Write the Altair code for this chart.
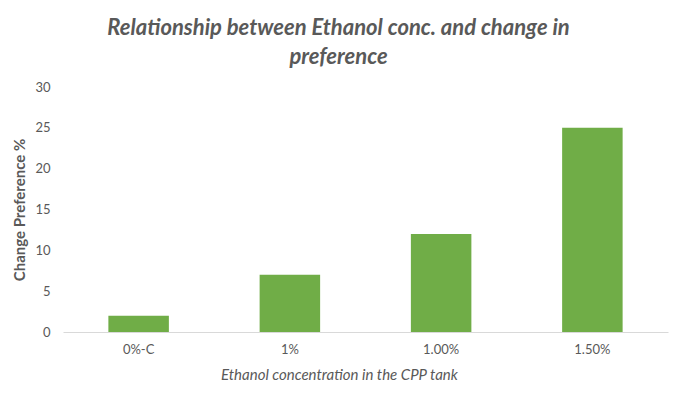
import altair as alt
import pandas as pd

categories = ["0%-C", "1%", "1.00%", "1.50%"]
values = [2, 7, 12, 25]

df = pd.DataFrame({"cat": categories, "val": values})

FONT = "Lato"
GRAY = "#595959"

chart = alt.Chart(df).mark_bar(color="#70AD47").encode(
    x=alt.X("cat:N", sort=categories,
            scale=alt.Scale(paddingInner=0.6, paddingOuter=0.3),
            axis=alt.Axis(title="Ethanol concentration in the CPP tank", labelAngle=0,
                          labelFont=FONT, labelFontSize=13, labelColor=GRAY,
                          labelPadding=11, ticks=False, domainColor="#D9D9D9",
                          titleFont=FONT, titleFontSize=15, titleFontStyle="italic",
                          titleFontWeight="normal", titleColor=GRAY, titlePadding=11,
                          titleX=276)),
    y=alt.Y("val:Q", scale=alt.Scale(domain=[0, 30]),
            axis=alt.Axis(title="Change Preference %", values=[0, 5, 10, 15, 20, 25, 30],
                          labelFont=FONT, labelFontSize=13, labelColor=GRAY,
                          labelPadding=13, ticks=False, domain=False, grid=False,
                          titleFont=FONT, titleFontSize=15, titleFontWeight="bold",
                          titleColor=GRAY, titleX=-36)),
).properties(
    width=605, height=245,
    autosize=alt.AutoSizeParams(type="none"),
    padding={"left": 55, "top": 79, "right": 13, "bottom": 50},
    title=alt.Title(["Relationship between Ethanol conc. and change in", "preference"],
                    font=FONT, fontSize=22, fontStyle="italic", fontWeight="bold",
                    color=GRAY, lineHeight=29, anchor="middle", dx=-27, offset=12),
).configure_view(stroke=None)

chart.save("out.html", embed_options={"renderer": "svg", "actions": False})
